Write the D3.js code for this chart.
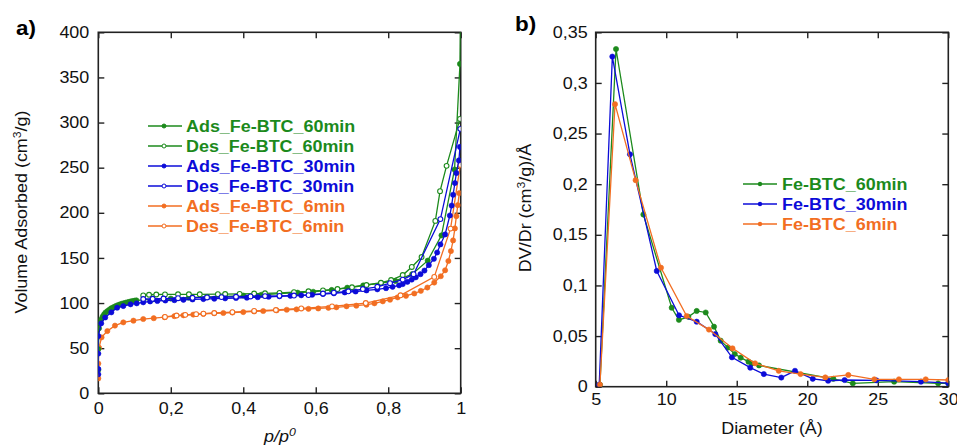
<!DOCTYPE html>
<html><head><meta charset="utf-8">
<script src="https://cdn.jsdelivr.net/npm/d3@7"></script>
<style>body{margin:0;background:#fff}svg{display:block}text{font-family:Arial,"Liberation Sans",sans-serif}</style>
</head><body><svg id="c" width="957" height="448"></svg>
<script>
// ---------- Panel a) isotherms: [p/p0, volume] ----------
const ads60 = [[0,26],[0,49],[0.002,72],[0.005,78],[0.008,82],[0.012,85],[0.016,87.5],[0.02,89.5],[0.025,91],[0.03,92.5],[0.035,94],[0.04,95],[0.045,96],[0.05,97],[0.055,97.8],[0.06,98.5],[0.065,99.2],[0.07,99.8],[0.075,100.3],[0.08,100.8],[0.085,101.3],[0.09,101.8],[0.095,102.2],[0.1,102.6],[0.105,103],[0.15,104],[0.2,105],[0.25,106],[0.3,106.8],[0.35,107.5],[0.4,108.3],[0.45,109.2],[0.5,110.5],[0.55,111.5],[0.593,112.5],[0.644,114.5],[0.687,117],[0.731,119.5],[0.78,122],[0.82,124.5],[0.866,132],[0.909,147],[0.947,175],[0.983,248],[0.998,365],[1.0,440]];
const des60 = [[0.998,304],[0.961,252],[0.943,224],[0.93,191],[0.892,151],[0.865,140],[0.84,131],[0.808,125.5],[0.78,122.5],[0.74,120],[0.7,117.5],[0.66,115.5],[0.62,114],[0.58,113],[0.54,112],[0.5,111.3],[0.46,110.8],[0.43,110.5],[0.39,110.2],[0.35,110],[0.33,109.8],[0.28,109.7],[0.25,109.7],[0.22,109.7],[0.184,109.6],[0.16,109.5],[0.14,109.2],[0.124,108.5]];
const ads30 = [[0,21],[0,27],[0,44],[0,63.5],[0.008,77.5],[0.019,84],[0.036,89.7],[0.052,94.9],[0.069,96.7],[0.089,98.6],[0.106,99.7],[0.124,100.8],[0.143,101.8],[0.163,102.3],[0.185,102.8],[0.21,103.2],[0.235,103.6],[0.26,104],[0.29,104.4],[0.32,104.8],[0.35,105.2],[0.38,105.6],[0.41,106],[0.44,106.5],[0.47,107],[0.5,107.5],[0.53,108],[0.56,108.6],[0.59,109.2],[0.62,110],[0.65,110.8],[0.68,111.8],[0.71,112.8],[0.74,114],[0.77,115.2],[0.794,116.5],[0.812,118],[0.83,119.6],[0.84,121],[0.853,123.5],[0.865,126],[0.876,128.5],[0.889,132],[0.9,136],[0.912,142],[0.926,149],[0.935,156],[0.944,165],[0.957,176],[0.97,197],[0.975,208],[0.979,220],[0.984,233],[0.988,244],[0.995,258],[0.998,273]];
const des30 = [[0.999,293],[0.944,193],[0.87,132],[0.84,126],[0.805,122],[0.77,118],[0.73,115.5],[0.69,113],[0.65,111.5],[0.62,110.5],[0.58,108.8],[0.54,108.3],[0.5,108],[0.46,107.7],[0.42,107.3],[0.38,107],[0.34,106.6],[0.3,106.2],[0.26,105.8],[0.22,105.4],[0.18,105],[0.15,104.7],[0.124,104.5]];
const ads6 = [[0,16.5],[0,33],[0.002,50.5],[0.009,62],[0.025,69],[0.046,75],[0.069,78.6],[0.097,80.5],[0.124,82.3],[0.153,83.2],[0.183,84.3],[0.21,85.5],[0.235,86.4],[0.262,87.2],[0.29,88],[0.32,88.7],[0.345,89],[0.37,89.5],[0.4,90],[0.43,90.7],[0.455,91.2],[0.492,91.9],[0.52,92.6],[0.547,93],[0.58,93.6],[0.607,94],[0.635,94.7],[0.657,95.3],[0.685,96.4],[0.712,97.1],[0.74,98.2],[0.762,99.7],[0.785,101.9],[0.805,103.7],[0.826,106.3],[0.849,108],[0.872,110.6],[0.89,113.5],[0.908,117.2],[0.927,122.7],[0.945,129.7],[0.957,136.3],[0.966,146.6],[0.973,157.6],[0.979,169.4],[0.984,182.7],[0.988,196.3],[0.992,208.5],[0.996,221.8]];
const des6 = [[0.999,253],[0.972,182.5],[0.927,129],[0.834,108.6],[0.738,100],[0.645,96.3],[0.56,94],[0.49,92.3],[0.43,91.3],[0.37,90],[0.32,89],[0.29,88.3],[0.27,87.7],[0.24,86.9],[0.216,86.2],[0.184,84.6]];

// ---------- Panel b) pore size distribution: [diameter Å, DV/Dr] ----------
const psd60 = [[5.3,0.002],[6.44,0.3335],[8.38,0.170],[10.39,0.078],[10.9,0.066],[11.57,0.069],[12.16,0.0748],[12.8,0.0733],[13.39,0.0593],[13.86,0.0455],[14.38,0.0386],[14.86,0.0323],[15.28,0.0287],[15.83,0.0247],[16.06,0.023],[16.58,0.021],[21.85,0.0078],[23.23,0.0033],[26.16,0.005],[29.28,0.0033],[30,0.0034]];
const psd30 = [[5.25,0.002],[6.18,0.326],[7.43,0.2295],[9.33,0.1143],[10.91,0.0705],[12.16,0.0642],[13.48,0.052],[14.66,0.029],[15.96,0.0188],[16.92,0.0125],[18.16,0.009],[19.13,0.0157],[20.39,0.0078],[21.48,0.0059],[22.65,0.0066],[24.9,0.0063],[28.06,0.005],[30,0.0035]];
const psd6 = [[5.3,0.002],[6.37,0.279],[7.83,0.204],[9.63,0.1175],[11.45,0.0698],[13.03,0.0564],[14.7,0.0379],[16.3,0.0231],[17.98,0.0157],[19.52,0.0125],[21.28,0.0092],[22.91,0.0116],[24.75,0.0073],[26.5,0.0073],[28.4,0.0073],[30,0.0066]];

// ---------- ticks / labels ----------
const xTicksA = [0,0.2,0.4,0.6,0.8,1];
const xLabelsA = ["0","0,2","0,4","0,6","0,8","1"];
const yTicksA = [0,50,100,150,200,250,300,350,400];
const yLabelsA = ["0","50","100","150","200","250","300","350","400"];
const xTicksB = [5,10,15,20,25,30];
const xLabelsB = ["5","10","15","20","25","30"];
const yTicksB = [0,0.05,0.1,0.15,0.2,0.25,0.3,0.35];
const yLabelsB = ["0","0,05","0,1","0,15","0,2","0,25","0,3","0,35"];

const legendA = ["Ads_Fe-BTC_60min","Des_Fe-BTC_60min","Ads_Fe-BTC_30min","Des_Fe-BTC_30min","Ads_Fe-BTC_6min","Des_Fe-BTC_6min"];
const legendB = ["Fe-BTC_60min","Fe-BTC_30min","Fe-BTC_6min"];

const GREEN = "#1c8a1c", BLUE = "#0c0cd8", ORANGE = "#f26e22";

const svg = d3.select("#c");
const xA = d3.scaleLinear([0,1],[98.3,460.7]);
const yA = d3.scaleLinear([0,400],[393.3,32.3]);
const xB = d3.scaleLinear([5,30],[595.7,948.3]);
const yB = d3.scaleLinear([0,0.35],[386.7,32.3]);

function frame(x, y, xT, xL, yT, yL, padX, padY, id) {
  const [x0,x1] = x.range(), [y0,y1] = y.range();
  const g = svg.append("g");
  const style = s => s.attr("font-size",16).attr("font-family","Arial, 'Liberation Sans', sans-serif");
  style(g.append("g").attr("transform",`translate(0,${y0})`)
    .call(d3.axisBottom(x).tickValues(xT).tickFormat((d,i)=>xL[i]).tickSizeInner(-6).tickSizeOuter(0).tickPadding(padX)));
  g.append("g").attr("transform",`translate(0,${y1})`)
    .call(d3.axisTop(x).tickValues(xT).tickFormat("").tickSizeInner(-6).tickSizeOuter(0));
  style(g.append("g").attr("transform",`translate(${x0},0)`)
    .call(d3.axisLeft(y).tickValues(yT).tickFormat((d,i)=>yL[i]).tickSizeInner(-6).tickSizeOuter(0).tickPadding(padY)));
  g.append("g").attr("transform",`translate(${x1},0)`)
    .call(d3.axisRight(y).tickValues(yT).tickFormat("").tickSizeInner(-6).tickSizeOuter(0));
  g.selectAll(".domain").remove();
  g.selectAll(".tick line").attr("stroke","#222").attr("stroke-width",1.4);
  g.selectAll(".tick text").attr("fill","#111").classed("st",true);
  g.append("rect").attr("x",x0).attr("y",y1).attr("width",x1-x0).attr("height",y0-y1)
    .attr("fill","none").attr("stroke","#222").attr("stroke-width",1.6);
  svg.append("clipPath").attr("id",id).append("rect")
    .attr("x",x0).attr("y",y1).attr("width",x1-x0).attr("height",y0-y1);
}
frame(xA,yA,xTicksA,xLabelsA,yTicksA,yLabelsA,9,9,"clipA");
frame(xB,yB,xTicksB,xLabelsB,yTicksB,yLabelsB,7,8,"clipB");

function series(x, y, data, color, open, clip, r) {
  const g = svg.append("g").attr("clip-path",`url(#${clip})`);
  g.append("path").datum(data)
    .attr("d", d3.line().x(d=>x(d[0])).y(d=>y(d[1])))
    .attr("fill","none").attr("stroke",color).attr("stroke-width",1.3);
  g.selectAll("circle").data(data).join("circle")
    .attr("cx",d=>x(d[0])).attr("cy",d=>y(d[1])).attr("r",r)
    .attr("fill",open?"#fff":color).attr("stroke",color).attr("stroke-width",open?1.1:0.6);
}
series(xA,yA,ads6,ORANGE,false,"clipA",2.6);
series(xA,yA,des6,ORANGE,true,"clipA",2.4);
series(xA,yA,ads60,GREEN,false,"clipA",2.6);
series(xA,yA,des60,GREEN,true,"clipA",2.4);
series(xA,yA,ads30,BLUE,false,"clipA",2.6);
series(xA,yA,des30,BLUE,true,"clipA",2.4);

series(xB,yB,psd60,GREEN,false,"clipB",2.6);
series(xB,yB,psd30,BLUE,false,"clipB",2.6);
series(xB,yB,psd6,ORANGE,false,"clipB",2.6);

// legends
const colA = [GREEN,GREEN,BLUE,BLUE,ORANGE,ORANGE];
legendA.forEach((t,i)=>{
  const yy = 126 + i*20;
  svg.append("line").attr("x1",148).attr("x2",182).attr("y1",yy).attr("y2",yy).attr("stroke",colA[i]).attr("stroke-width",1.3);
  svg.append("circle").attr("cx",164).attr("cy",yy).attr("r",2)
    .attr("fill",i%2?"#fff":colA[i]).attr("stroke",colA[i]).attr("stroke-width",1);
  svg.append("text").attr("class","st").attr("x",186).attr("y",yy+6).attr("font-size",16)
    .attr("font-weight","bold").attr("fill",colA[i]).text(t);
});
const colB = [GREEN,BLUE,ORANGE];
legendB.forEach((t,i)=>{
  const yy = 184 + i*20;
  svg.append("line").attr("x1",743).attr("x2",777).attr("y1",yy).attr("y2",yy).attr("stroke",colB[i]).attr("stroke-width",1.3);
  svg.append("circle").attr("cx",760).attr("cy",yy).attr("r",2.2).attr("fill",colB[i]);
  svg.append("text").attr("class","st").attr("x",782).attr("y",yy+6).attr("font-size",16)
    .attr("font-weight","bold").attr("fill",colB[i]).text(t);
});

// panel labels
svg.append("text").attr("class","st").attr("x",16).attr("y",35).attr("font-size",20).attr("font-weight","bold").text("a)");
svg.append("text").attr("class","st").attr("x",515).attr("y",31).attr("font-size",20).attr("font-weight","bold").text("b)");

// axis titles
const yt1 = svg.append("text").attr("class","st").attr("transform","translate(27,212) rotate(-90)")
  .attr("text-anchor","middle").attr("font-size",16).attr("fill","#111");
yt1.append("tspan").text("Volume Adsorbed (cm");
yt1.append("tspan").attr("dy",-6).attr("font-size",11).text("3");
yt1.append("tspan").attr("dy",6).text("/g)");

const xt1 = svg.append("text").attr("class","st").attr("x",280).attr("y",442).attr("text-anchor","middle")
  .attr("font-size",16).attr("font-style","italic").attr("fill","#111");
xt1.append("tspan").text("p/p");
xt1.append("tspan").attr("dy",-6).attr("font-size",11).text("0");

const yt2 = svg.append("text").attr("class","st").attr("transform","translate(531,208) rotate(-90)")
  .attr("text-anchor","middle").attr("font-size",16).attr("fill","#111");
yt2.append("tspan").text("DV/Dr (cm");
yt2.append("tspan").attr("dy",-6).attr("font-size",11).text("3");
yt2.append("tspan").attr("dy",6).text("/g)/Å");

svg.append("text").attr("class","st").attr("x",772).attr("y",434).attr("text-anchor","middle")
  .attr("font-size",16).attr("fill","#111").text("Diameter (Å)");

// slight horizontal widening of glyphs to match the reference typography
svg.selectAll("text.st").each(function(){
  const L = this.getComputedTextLength();
  if (L > 0) { this.setAttribute("textLength", (L*1.12).toFixed(1)); this.setAttribute("lengthAdjust","spacingAndGlyphs"); }
});
</script></body></html>
